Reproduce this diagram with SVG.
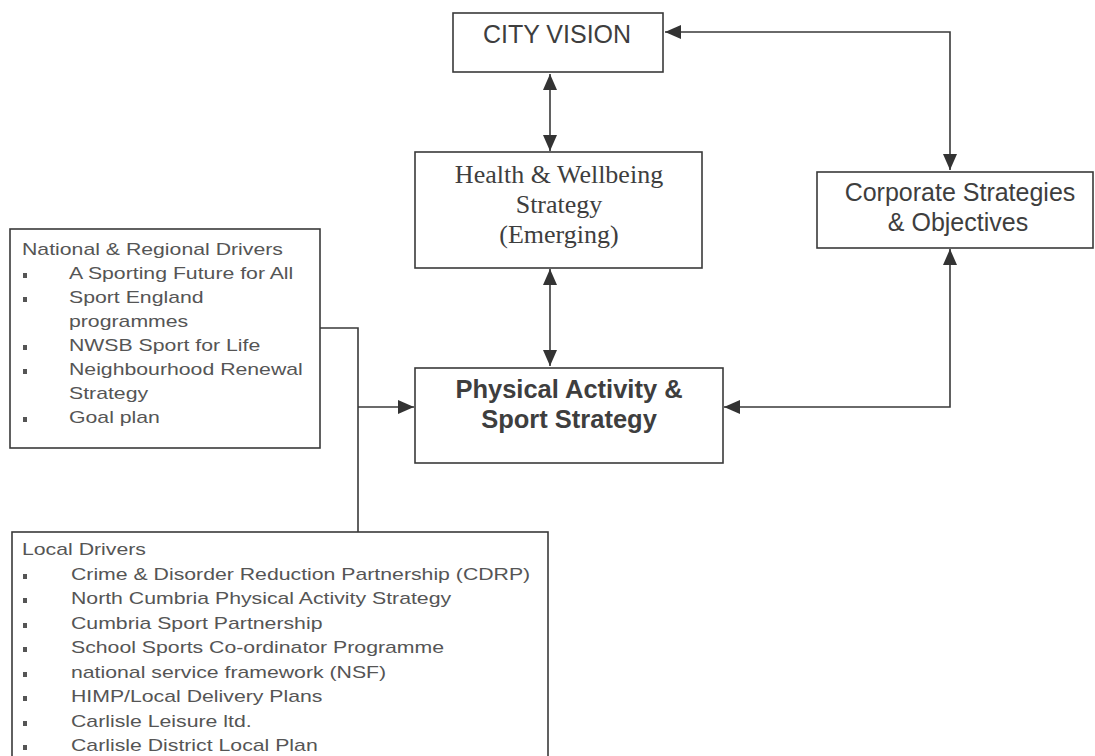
<svg xmlns="http://www.w3.org/2000/svg" width="1095" height="756" viewBox="0 0 1095 756">
<style>
.box{fill:#fff;stroke:#3a3a3a;stroke-width:1.6}
.ln{fill:none;stroke:#3a3a3a;stroke-width:1.6}
.sans{font-family:"Liberation Sans",Arial,sans-serif;fill:#3e3e3e}
.serif{font-family:"Liberation Serif","Times New Roman",serif;fill:#3e3e3e}
.lst{font-family:"Liberation Sans",Arial,sans-serif;font-size:17px;fill:#555}
.bul{fill:#555}
</style>
<defs>
<marker id="ah" viewBox="0 0 16 14" refX="16" refY="7" markerWidth="16" markerHeight="14" markerUnits="userSpaceOnUse" orient="auto-start-reverse">
<path d="M0,0 L16,7 L0,14 Z" fill="#333"/>
</marker>
</defs>
<rect width="1095" height="756" fill="#fff"/>
<g id="connectors">
<path class="ln" d="M665,32 H950 V170" marker-start="url(#ah)" marker-end="url(#ah)"/>
<path class="ln" d="M550,74 V151" marker-start="url(#ah)" marker-end="url(#ah)"/>
<path class="ln" d="M550,269 V366" marker-start="url(#ah)" marker-end="url(#ah)"/>
<path class="ln" d="M950,249 V407 H724" marker-start="url(#ah)" marker-end="url(#ah)"/>
<path class="ln" d="M320,328 H358 V532"/>
<path class="ln" d="M358,407 H414" marker-end="url(#ah)"/>
</g>
<g id="city-vision">
<rect class="box" x="453" y="13" width="210" height="59"/>
<text class="sans" x="557" y="43" font-size="25" text-anchor="middle">CITY VISION</text>
</g>
<g id="health">
<rect class="box" x="415" y="152" width="287" height="116"/>
<text class="serif" font-size="26" text-anchor="middle"><tspan x="559" y="183">Health &amp; Wellbeing</tspan><tspan x="559" y="213">Strategy</tspan><tspan x="559" y="243">(Emerging)</tspan></text>
</g>
<g id="corporate">
<rect class="box" x="817" y="172" width="276" height="76"/>
<text class="sans" font-size="25" text-anchor="middle"><tspan x="960" y="201">Corporate Strategies</tspan><tspan x="958" y="231">&amp; Objectives</tspan></text>
</g>
<g id="physical">
<rect class="box" x="415" y="368" width="308" height="95"/>
<text class="sans" font-size="25.5" font-weight="bold" text-anchor="middle"><tspan x="569" y="398">Physical Activity &amp;</tspan><tspan x="569" y="428">Sport Strategy</tspan></text>
</g>
<g id="national">
<rect class="box" x="10" y="229" width="310" height="219"/>
<rect class="bul" x="23" y="273" width="4" height="5"/>
<rect class="bul" x="23" y="297" width="4" height="5"/>
<rect class="bul" x="23" y="345" width="4" height="5"/>
<rect class="bul" x="23" y="369" width="4" height="5"/>
<rect class="bul" x="23" y="417" width="4" height="5"/>
<g transform="scale(1.25 1)">
<text class="lst" x="17.6" y="255">National &amp; Regional Drivers</text>
<text class="lst" x="55.2" y="279">A Sporting Future for All</text>
<text class="lst" x="55.2" y="303">Sport England</text>
<text class="lst" x="55.2" y="327">programmes</text>
<text class="lst" x="55.2" y="351">NWSB Sport for Life</text>
<text class="lst" x="55.2" y="375">Neighbourhood Renewal</text>
<text class="lst" x="55.2" y="399">Strategy</text>
<text class="lst" x="55.2" y="423">Goal plan</text>
</g>
</g>
<g id="local">
<rect class="box" x="12" y="532" width="536" height="240"/>
<rect class="bul" x="23" y="574" width="4" height="5"/>
<rect class="bul" x="23" y="598" width="4" height="5"/>
<rect class="bul" x="23" y="623" width="4" height="5"/>
<rect class="bul" x="23" y="647" width="4" height="5"/>
<rect class="bul" x="23" y="672" width="4" height="5"/>
<rect class="bul" x="23" y="696" width="4" height="5"/>
<rect class="bul" x="23" y="721" width="4" height="5"/>
<rect class="bul" x="23" y="745" width="4" height="5"/>
<g transform="scale(1.25 1)">
<text class="lst" x="17.6" y="555">Local Drivers</text>
<text class="lst" x="56.8" y="580">Crime &amp; Disorder Reduction Partnership (CDRP)</text>
<text class="lst" x="56.8" y="604">North Cumbria Physical Activity Strategy</text>
<text class="lst" x="56.8" y="629">Cumbria Sport Partnership</text>
<text class="lst" x="56.8" y="653">School Sports Co-ordinator Programme</text>
<text class="lst" x="56.8" y="678">national service framework (NSF)</text>
<text class="lst" x="56.8" y="702">HIMP/Local Delivery Plans</text>
<text class="lst" x="56.8" y="727">Carlisle Leisure ltd.</text>
<text class="lst" x="56.8" y="751">Carlisle District Local Plan</text>
</g>
</g>
</svg>
